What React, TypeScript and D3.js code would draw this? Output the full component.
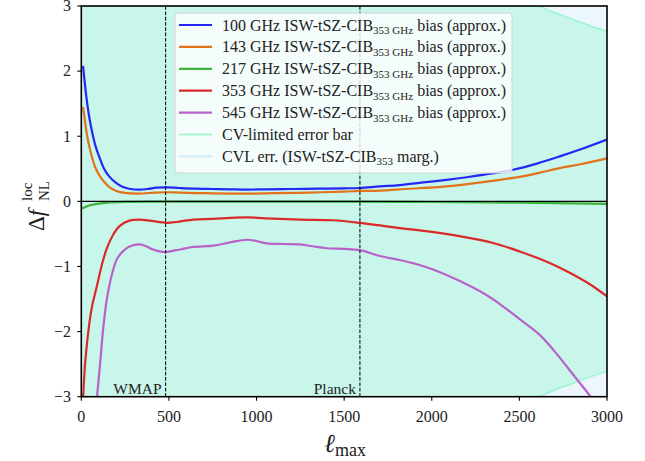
import React from "react";
import * as d3 from "d3";

type P = [number, number];

const xTicks = [0, 500, 1000, 1500, 2000, 2500, 3000];
const yTicks = [-3, -2, -1, 0, 1, 2, 3];

const bias100: P[] = [[10,2.08],[20,1.82],[30,1.58],[45,1.3],[63,1.05],[80,0.86],[103,0.68],[130,0.5],[160,0.38],[200,0.28],[235,0.225],[280,0.19],[332,0.18],[380,0.19],[429,0.21],[487,0.215],[560,0.205],[650,0.195],[750,0.19],[850,0.185],[945,0.18],[1050,0.185],[1200,0.19],[1350,0.195],[1500,0.2],[1590,0.205],[1704,0.23],[1817,0.25],[1950,0.29],[2084,0.33],[2200,0.37],[2300,0.41],[2464,0.485],[2600,0.58],[2730,0.69],[2850,0.8],[3000,0.95]];
const bias143: P[] = [[10,1.45],[20,1.25],[30,1.06],[45,0.85],[63,0.66],[80,0.52],[103,0.4],[130,0.3],[160,0.22],[200,0.16],[250,0.13],[330,0.12],[420,0.135],[487,0.14],[560,0.135],[700,0.125],[850,0.12],[945,0.118],[1100,0.125],[1300,0.135],[1500,0.15],[1590,0.16],[1704,0.165],[1850,0.19],[2084,0.23],[2300,0.3],[2464,0.36],[2600,0.43],[2730,0.51],[2850,0.57],[3000,0.66]];
const bias217: P[] = [[5,-0.11],[20,-0.09],[50,-0.06],[100,-0.035],[150,-0.02],[250,-0.008],[400,-0.003],[800,-0.003],[1500,-0.005],[2000,-0.01],[2500,-0.02],[3000,-0.04]];
const bias353: P[] = [[7,-3.5],[11,-3.0],[20,-2.55],[30,-2.25],[40,-2.0],[60,-1.63],[89,-1.3],[115,-1.0],[143,-0.74],[180,-0.52],[218,-0.38],[270,-0.3],[332,-0.28],[400,-0.3],[487,-0.33],[560,-0.31],[639,-0.28],[750,-0.27],[850,-0.255],[943,-0.245],[1050,-0.26],[1247,-0.28],[1436,-0.29],[1590,-0.33],[1704,-0.37],[1818,-0.41],[2000,-0.47],[2179,-0.545],[2350,-0.64],[2502,-0.77],[2650,-0.92],[2768,-1.07],[2900,-1.27],[3000,-1.46]];
const bias545: P[] = [[80,-3.4],[90,-3.0],[107,-2.5],[125,-1.95],[146,-1.5],[175,-1.12],[203,-0.89],[240,-0.76],[278,-0.69],[335,-0.66],[370,-0.69],[409,-0.74],[477,-0.78],[520,-0.76],[563,-0.74],[639,-0.7],[753,-0.68],[850,-0.63],[943,-0.59],[1000,-0.61],[1057,-0.645],[1150,-0.655],[1247,-0.66],[1320,-0.69],[1400,-0.72],[1500,-0.73],[1590,-0.75],[1704,-0.84],[1818,-0.9],[1894,-0.95],[2000,-1.04],[2160,-1.225],[2300,-1.42],[2400,-1.6],[2502,-1.81],[2616,-2.05],[2700,-2.3],[2760,-2.5],[2833,-2.75],[2901,-2.98],[2950,-3.17]];
const cvSigma: P[] = [[0,9999],[50,156],[100,78],[200,39],[500,15.7],[1000,7.8],[1500,5.2],[2000,3.92],[2500,3.13],[2600,3.01],[2700,2.9],[2800,2.8],[2900,2.7],[3000,2.61]];

const freqs = ["100", "143", "217", "353", "545"];
const seriesData = [bias100, bias143, bias217, bias353, bias545];
const colors = ["#2626f5", "#e2721c", "#3cb43c", "#d92a2a", "#b862c8"];
const experiments: [string, number][] = [["WMAP", 481], ["Planck", 1590]];

const W = 645, H = 461;
const L = 81.3, R = 607, T = 6, B = 396.7;
const FONT = "'Liberation Serif', 'Times New Roman', serif";

export default function App() {
  const x = d3.scaleLinear().domain([0, 3000]).range([L, R]);
  const y = d3.scaleLinear().domain([-3, 3]).range([B, T]);
  const line = d3.line<P>().x(d => x(d[0])).y(d => y(d[1])).curve(d3.curveCatmullRom.alpha(0.5));
  const area = d3.area<P>().x(d => x(d[0])).y0(d => y(-d[1])).y1(d => y(d[1])).curve(d3.curveMonotoneX);
  const upper = d3.line<P>().x(d => x(d[0])).y(d => y(d[1])).curve(d3.curveMonotoneX);
  const lower = d3.line<P>().x(d => x(d[0])).y(d => y(-d[1])).curve(d3.curveMonotoneX);

  const lgX = 175, lgY = 13, lgW = 337, lgH = 160, rowH = 21.9, row0 = 25;

  return (
    <svg width={W} height={H} style={{ position: "absolute", left: 0, top: 0 }} fontFamily={FONT}>
      <defs>
        <clipPath id="plot"><rect x={L} y={T} width={R - L} height={B - T} /></clipPath>
      </defs>
      <g clipPath="url(#plot)">
        <rect x={L} y={T} width={R - L} height={B - T} fill="#ecf6fd" />
        <path d={area(cvSigma) || ""} fill="#c9f6ea" />
        <path d={upper(cvSigma) || ""} fill="none" stroke="#9ef4cf" strokeWidth={1.5} />
        <path d={lower(cvSigma) || ""} fill="none" stroke="#9ef4cf" strokeWidth={1.5} />
        {seriesData.map((s, i) => (
          <path key={i} d={line(s) || ""} fill="none" stroke={colors[i]} strokeWidth={2.2} strokeLinejoin="round" />
        ))}
        <line x1={L} x2={R} y1={y(0)} y2={y(0)} stroke="#000" strokeWidth={1.1} />
        {experiments.map(([name, l]) => (
          <g key={name}>
            <line x1={x(l)} x2={x(l)} y1={B} y2={T} stroke="#111" strokeWidth={1.1} strokeDasharray="3.7 1.6" />
            <text x={x(l) - 4} y={394} fontSize={15.5} textAnchor="end" fill="#222">{name}</text>
          </g>
        ))}
      </g>
      <g>
        <rect x={lgX} y={lgY} width={lgW} height={lgH} rx={3} fill="#ffffff" fillOpacity={0.8} stroke="#d4d4d4" strokeWidth={1} />
        {freqs.map((f, i) => (
          <g key={f}>
            <line x1={179} x2={212} y1={row0 + i * rowH} y2={row0 + i * rowH} stroke={colors[i]} strokeWidth={2.2} />
            <text x={222} y={row0 + i * rowH + 5.5} fontSize={16} fill="#222">
              {`${f} GHz ISW-tSZ-CIB`}
              <tspan fontSize={11} dy={3.5}>353 GHz</tspan>
              <tspan dy={-3.5}>{" bias (approx.)"}</tspan>
            </text>
          </g>
        ))}
        <line x1={179} x2={212} y1={row0 + 5 * rowH} y2={row0 + 5 * rowH} stroke="#a8f5d2" strokeWidth={2.2} />
        <text x={222} y={row0 + 5 * rowH + 5.5} fontSize={16} fill="#222">CV-limited error bar</text>
        <line x1={179} x2={212} y1={row0 + 6 * rowH} y2={row0 + 6 * rowH} stroke="#d6ecf8" strokeWidth={2.2} />
        <text x={222} y={row0 + 6 * rowH + 5.5} fontSize={16} fill="#222">
          {"CVL err. (ISW-tSZ-CIB"}
          <tspan fontSize={11} dy={3.5}>353</tspan>
          <tspan dy={-3.5}>{" marg.)"}</tspan>
        </text>
      </g>
      <rect x={L} y={T} width={R - L} height={B - T} fill="none" stroke="#000" strokeWidth={1.6} />
      {xTicks.map(t => (
        <g key={t}>
          <line x1={x(t)} x2={x(t)} y1={B} y2={B + 4} stroke="#000" strokeWidth={1.1} />
          <text x={x(t)} y={421.5} fontSize={16} textAnchor="middle" fill="#222">{t}</text>
        </g>
      ))}
      {yTicks.map(t => (
        <g key={t}>
          <line x1={L - 4} x2={L} y1={y(t)} y2={y(t)} stroke="#000" strokeWidth={1.1} />
          <text x={71} y={y(t) + 5.3} fontSize={16} textAnchor="end" fill="#222">{t < 0 ? `\u2212${-t}` : t}</text>
        </g>
      ))}
      <text x={345} y={452} textAnchor="middle" fill="#222">
        <tspan fontSize={26} fontStyle="italic">ℓ</tspan>
        <tspan fontSize={18} dy={4}>max</tspan>
      </text>
      <g transform="translate(44,199) rotate(-90)">
        <text x={-32} y={0} fontSize={23} fill="#222">
          <tspan>Δ</tspan>
          <tspan fontStyle="italic">f</tspan>
        </text>
        <text x={-2} y={5} fontSize={15} fill="#222">NL</text>
        <text x={-2} y={-12} fontSize={15} fill="#222">loc</text>
      </g>
    </svg>
  );
}
